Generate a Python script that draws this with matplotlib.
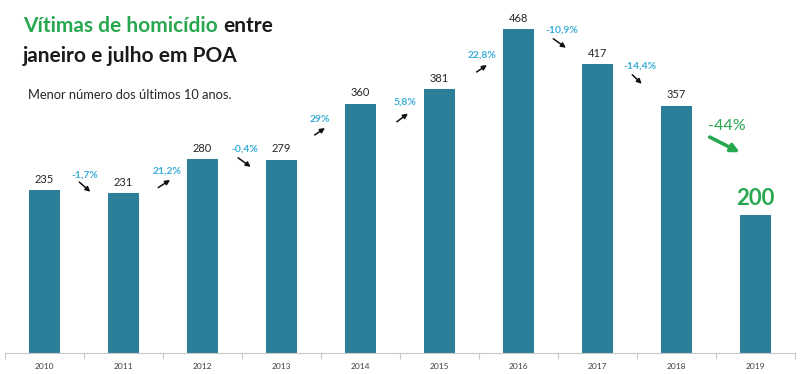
import matplotlib
matplotlib.use("Agg")
import matplotlib.pyplot as plt
import numpy as np

years = ["2010", "2011", "2012", "2013", "2014", "2015", "2016", "2017", "2018", "2019"]
values = [235, 231, 280, 279, 360, 381, 468, 417, 357, 200]
changes = ["-1,7%", "21,2%", "-0,4%", "29%", "5,8%", "22,8%", "-10,9%", "-14,4%", "-44%"]

BAR = "#2c7f98"
GREEN = "#27a84f"
CYAN = "#3aaed8"
FONT = "Lato"

plt.rcParams["font.family"] = [FONT, "DejaVu Sans"]

fig = plt.figure(figsize=(8.0, 3.74), dpi=100)
ax = fig.add_axes([5 / 800, 21 / 374, 790 / 800, 353 / 374])
x = np.arange(len(years))
ax.bar(x, values, width=0.39, color=BAR, zorder=2)
ax.set_xlim(-0.5, len(years) - 0.5)
ax.set_ylim(0, 510)

for s in ["top", "right", "left"]:
    ax.spines[s].set_visible(False)
ax.spines["bottom"].set_color("#c8c8c8")
ax.spines["bottom"].set_linewidth(0.8)
ax.set_yticks([])
ax.set_xticks(x)
ax.set_xticklabels(years, fontsize=6, color="#404040")
ax.tick_params(axis="x", which="major", length=0, pad=7)
ax.set_xticks(np.arange(-0.5, len(years)), minor=True)
ax.tick_params(axis="x", which="minor", length=4, color="#c8c8c8", width=0.8)

# value labels
for i, v in enumerate(values[:-1]):
    ax.annotate(str(v), (i, v), xytext=(0, 4), textcoords="offset points",
                ha="center", va="bottom", fontsize=8, color="#262626")
ax.annotate(str(values[-1]), (9, values[-1]), xytext=(0, 4), textcoords="offset points",
            ha="center", va="bottom", fontsize=16, color=GREEN, fontweight="bold")

# percentage labels (text position, arrow start, arrow end) in data coords
pct_text = [(0.51, 257), (1.55, 263), (2.54, 294), (3.49, 338), (4.56, 362),
            (5.54, 431), (6.55, 466), (7.54, 414)]
arr_start = [(0.44, 247), (1.44, 239), (2.45, 282), (3.42, 315), (4.46, 334),
             (5.47, 406), (6.44, 454), (7.44, 402)]
arr_end = [(0.58, 233), (1.59, 250), (2.61, 269), (3.55, 325), (4.60, 346),
           (5.60, 416), (6.60, 441), (7.56, 389)]
for lab, t, a0, a1 in zip(changes[:-1], pct_text, arr_start, arr_end):
    ax.text(t[0], t[1], lab, ha="center", va="center", fontsize=7.5, color=CYAN,
            fontweight="bold")
    ax.annotate("", xy=a1, xytext=a0,
                arrowprops=dict(arrowstyle="-|>", color="#111111", lw=1.1,
                                mutation_scale=7, shrinkA=0, shrinkB=0))

ax.text(8.64, 328, changes[-1], ha="center", va="center", fontsize=11.5, color=GREEN)
ax.annotate("", xy=(8.80, 290), xytext=(8.42, 312),
            arrowprops=dict(arrowstyle="-|>", color=GREEN, lw=2.6,
                            mutation_scale=12, shrinkA=0, shrinkB=0))

# title
TS = 15
t1 = fig.text(23 / 800, 1 - 32 / 374, "Vítimas de homicídio", fontsize=TS,
              fontweight="bold", color=GREEN, ha="left", va="baseline")
fig.canvas.draw()
bb = t1.get_window_extent()
fig.text(bb.x1 / 800 + 0.007, 1 - 32 / 374, "entre", fontsize=TS,
         fontweight="bold", color="#1a1a1a", ha="left", va="baseline")
fig.text(23 / 800, 1 - 62 / 374, "janeiro e julho em POA", fontsize=TS,
         fontweight="bold", color="#1a1a1a", ha="left", va="baseline")
fig.text(28 / 800, 1 - 99 / 374, "Menor número dos últimos 10 anos.", fontsize=9.3,
         color="#262626", ha="left", va="baseline")

fig.savefig("out.png", dpi=100, facecolor="white")
